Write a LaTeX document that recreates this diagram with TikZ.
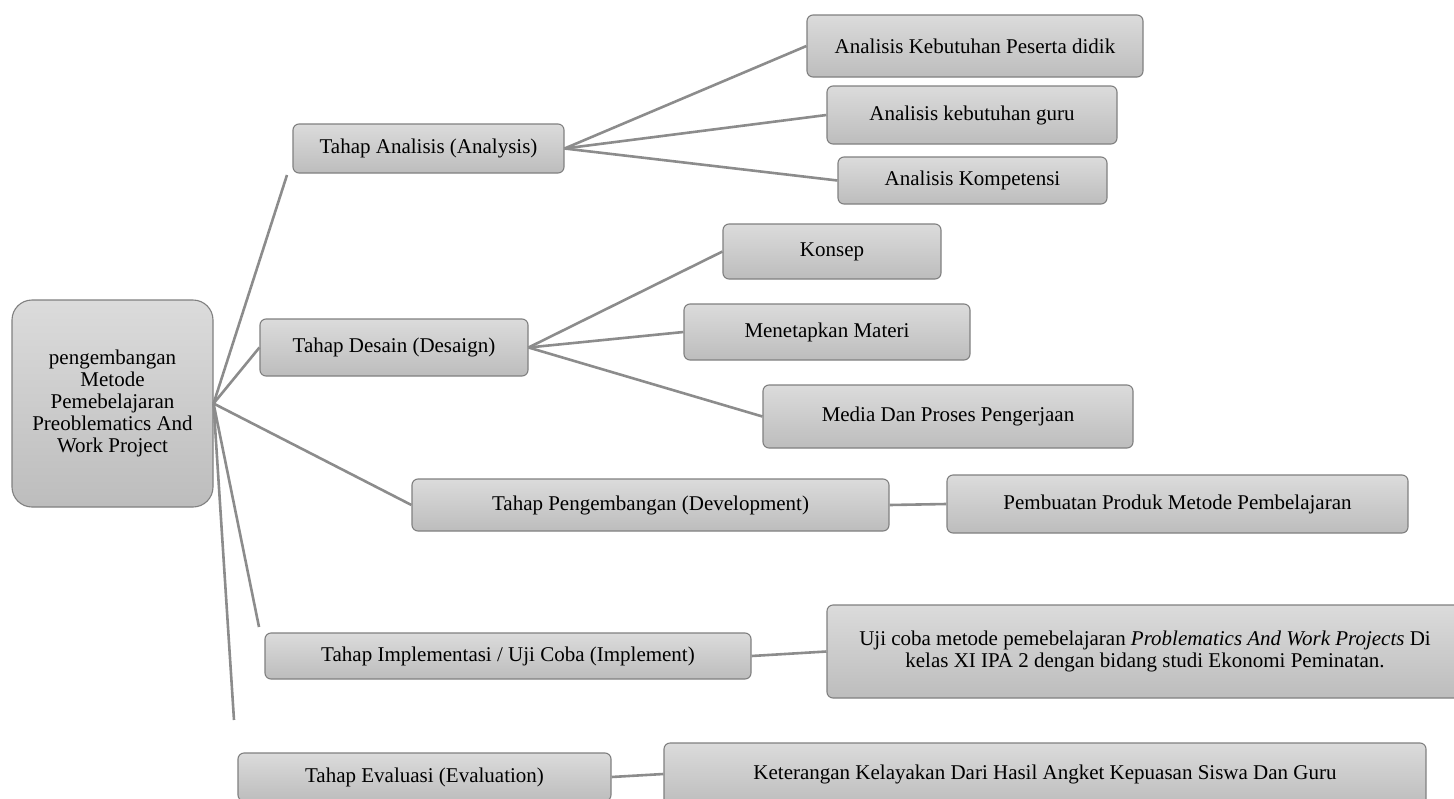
\documentclass[tikz,border=0pt]{standalone}
\usepackage{fontspec}
\setmainfont{Liberation Serif}
\begin{document}
\begin{tikzpicture}[x=1pt, y=-1pt,
    every node/.style={font=\fontsize{21}{22}\selectfont, align=center, inner sep=0pt},
    box/.style={draw=black!50, line width=1.1pt, rounded corners=6pt,
                top color=gray!28, bottom color=gray!52},
    rootbox/.style={box, rounded corners=20pt},
    link/.style={black!45, line width=2.6pt}]
\useasboundingbox (0,0) rectangle (1454,798);
% main topic
\node[rootbox, minimum width=201pt, minimum height=207pt] (root) at (112.5,403.5)
  {pengembangan\\ Metode\\ Pemebelajaran\\ Preoblematics And\\ Work Project};
% stages
\node[box, minimum width=271pt, minimum height=49pt] (ana) at (428.5,148.5) {Tahap Analisis (Analysis)};
\node[box, minimum width=268pt, minimum height=57pt] (des) at (394,347.5) {Tahap Desain (Desaign)};
\node[box, minimum width=477pt, minimum height=52pt] (dev) at (650.5,505) {Tahap Pengembangan (Development)};
\node[box, minimum width=486pt, minimum height=46pt] (imp) at (508,656) {Tahap Implementasi / Uji Coba (Implement)};
\node[box, minimum width=373pt, minimum height=48pt] (eva) at (424.5,777) {Tahap Evaluasi (Evaluation)};
% details
\node[box, minimum width=336pt, minimum height=62pt] (ana1) at (975,46) {Analisis Kebutuhan Peserta didik};
\node[box, minimum width=290pt, minimum height=58pt] (ana2) at (972,115) {Analisis kebutuhan guru};
\node[box, minimum width=269pt, minimum height=47pt] (ana3) at (972.5,180.5) {Analisis Kompetensi};
\node[box, minimum width=218pt, minimum height=55pt] (des1) at (832,251.5) {Konsep};
\node[box, minimum width=286pt, minimum height=56pt] (des2) at (827,332) {Menetapkan Materi};
\node[box, minimum width=370pt, minimum height=63pt] (des3) at (948,416.5) {Media Dan Proses Pengerjaan};
\node[box, minimum width=461pt, minimum height=58pt] (dev1) at (1177.5,504) {Pembuatan Produk Metode Pembelajaran};
\node[box, minimum width=636pt, minimum height=93pt] (imp1) at (1145,651.5)
  {Uji coba metode pemebelajaran \textit{Problematics And Work Projects} Di\\ kelas XI IPA 2 dengan bidang studi Ekonomi Peminatan.};
\node[box, minimum width=762pt, minimum height=62pt] (eva1) at (1045,774) {Keterangan Kelayakan Dari Hasil Angket Kepuasan Siswa Dan Guru};
% loose ends of the root branches
\coordinate (endA) at (287,175);
\coordinate (endI) at (259,627);
\coordinate (endE) at (234,720);
\draw[link] (root.east) -- (endA);
\draw[link] (root.east) -- (des.west);
\draw[link] (root.east) -- (dev.west);
\draw[link] (root.east) -- (endI);
\draw[link] (root.east) -- (endE);
\draw[link] (ana.east) -- (ana1.west);
\draw[link] (ana.east) -- (ana2.west);
\draw[link] (ana.east) -- (ana3.west);
\draw[link] (des.east) -- (des1.west);
\draw[link] (des.east) -- (des2.west);
\draw[link] (des.east) -- (des3.west);
\draw[link] (dev.east) -- (dev1.west);
\draw[link] (imp.east) -- (imp1.west);
\draw[link] (eva.east) -- (eva1.west);
\end{tikzpicture}
\end{document}
